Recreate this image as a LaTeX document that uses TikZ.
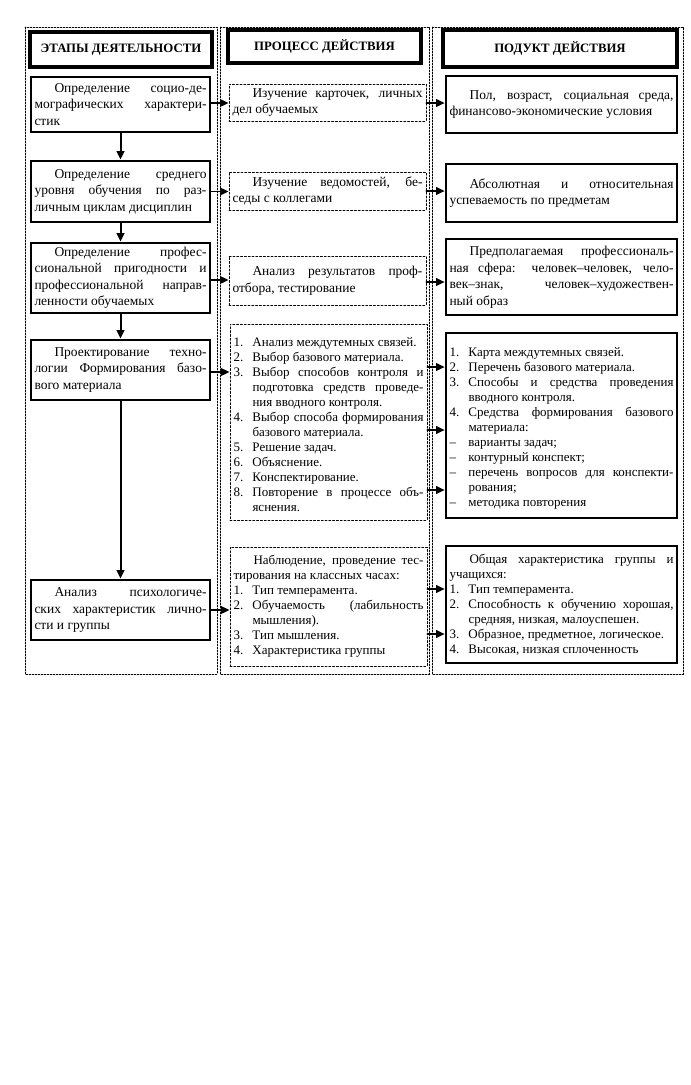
\documentclass[tikz,border=0pt]{standalone}
\usepackage{fontspec}
\setmainfont{Liberation Serif}
\usetikzlibrary{arrows.meta}
\newcommand{\tightpar}{\hyphenpenalty=10000\relax\exhyphenpenalty=10000\relax\tolerance=10000\relax}
\newcommand{\ind}{\noindent\hspace*{20pt}}
\newcommand{\itm}[2]{\par\noindent\hangindent=19pt\hangafter=1\makebox[19pt][l]{#1}#2\par}

\begin{document}
\begin{tikzpicture}[x=1pt,y=-1pt,>={Triangle[length=8.5pt,width=7.5pt]},line cap=round,
  body/.style={font=\fontsize{13.5}{16.5}\selectfont\tightpar,align=justify,inner xsep=3.5pt,inner ysep=2pt},
  lst/.style={body,font=\fontsize{13}{15}\selectfont\tightpar},
  head/.style={draw,line width=3.2pt,font=\fontsize{12.8}{14}\selectfont\bfseries,align=center},
  stage/.style={draw,line width=2.6pt,text width=172pt,minimum width=179pt},
  act/.style={draw,line width=0.8pt,dash pattern=on 2pt off 1.8pt,text width=190pt,minimum width=197pt},
  prod/.style={draw,line width=2.6pt,text width=224pt,minimum width=231pt},
  col/.style={line width=0.8pt,dash pattern=on 1.6pt off 1.4pt},
  flow/.style={->,line width=1.8pt}]
\useasboundingbox (0,0) rectangle (691,1085);
\draw[col] (25,27) rectangle (217,674);
\draw[col] (220,27) rectangle (429,674);
\draw[col] (432,27) rectangle (683,674);

\node[head,minimum width=182pt,minimum height=35pt] (h1) at (121,49.5) {ЭТАПЫ ДЕЯТЕЛЬНОСТИ};
\node[head,minimum width=193pt,minimum height=33pt] (h2) at (324.5,46.5) {ПРОЦЕСС ДЕЙСТВИЯ};
\node[head,minimum width=234pt,minimum height=37pt] (h3) at (560,48.5) {ПОДУКТ ДЕЙСТВИЯ};

\node[body,stage,minimum height=55pt] (a1) at (120.5,104.5) {\ind Определение социо-де-\linebreak мографических характери-\linebreak стик};
\node[body,stage,minimum height=61pt] (a2) at (120.5,191.5) {\ind Определение среднего\linebreak уровня обучения по раз-\linebreak личным циклам дисциплин};
\node[body,stage,minimum height=70pt] (a3) at (120.5,278) {\ind Определение профес-\linebreak сиональной пригодности и\linebreak профессиональной направ-\linebreak ленности обучаемых};
\node[body,stage,minimum height=60pt] (a4) at (120.5,370) {\ind Проектирование техно-\linebreak логии Формирования базо-\linebreak вого материала};
\node[body,stage,minimum height=60pt] (a5) at (120.5,610) {\ind Анализ психологиче-\linebreak ских характеристик лично-\linebreak сти и группы};

\node[body,act,minimum height=37pt] (b1) at (327.5,102.5) {\ind Изучение карточек, личных\linebreak дел обучаемых};
\node[body,act,minimum height=38pt] (b2) at (327.5,191) {\ind Изучение ведомостей, бе-\linebreak седы с коллегами};
\node[body,act,minimum height=49pt] (b3) at (327.5,280.5) {\ind Анализ результатов проф-\linebreak отбора, тестирование};
\node[lst,act,minimum height=196pt] (b4) at (328.5,422) {\itm{1.}{Анализ междутемных связей.}
\itm{2.}{Выбор базового материала.}
\itm{3.}{Выбор способов контроля и\linebreak подготовка средств проведе-\linebreak ния вводного контроля.}
\itm{4.}{Выбор способа формирования\linebreak базового материала.}
\itm{5.}{Решение задач.}
\itm{6.}{Объяснение.}
\itm{7.}{Конспектирование.}
\itm{8.}{Повторение в процессе объ-\linebreak яснения.}};
\node[lst,act,minimum height=119pt] (b5) at (328.5,606.5) {\ind Наблюдение, проведение тес-\linebreak тирования на классных часах:
\itm{1.}{Тип темперамента.}
\itm{2.}{Обучаемость (лабильность\linebreak мышления).}
\itm{3.}{Тип мышления.}
\itm{4.}{Характеристика группы}};

\node[body,prod,minimum height=57pt] (c1) at (561.5,104.5) {\ind Пол, возраст, социальная среда,\linebreak финансово-экономические условия};
\node[body,prod,minimum height=58pt] (c2) at (561.5,193) {\ind Абсолютная и относительная\linebreak успеваемость по предметам};
\node[body,prod,minimum height=76pt] (c3) at (561.5,277) {\ind Предполагаемая профессиональ-\linebreak ная сфера: человек–человек, чело-\linebreak век–знак, человек–художествен-\linebreak ный образ};
\node[lst,prod,minimum height=185pt] (c4) at (561.5,425.5) {\itm{1.}{Карта междутемных связей.}
\itm{2.}{Перечень базового материала.}
\itm{3.}{Способы и средства проведения\linebreak вводного контроля.}
\itm{4.}{Средства формирования базового\linebreak материала:}
\itm{–}{варианты задач;}
\itm{–}{контурный конспект;}
\itm{–}{перечень вопросов для конспекти-\linebreak рования;}
\itm{–}{методика повторения}};
\node[lst,prod,minimum height=117pt] (c5) at (561.5,604.5) {\ind Общая характеристика группы и\linebreak учащихся:
\itm{1.}{Тип темперамента.}
\itm{2.}{Способность к обучению хорошая,\linebreak средняя, низкая, малоуспешен.}
\itm{3.}{Образное, предметное, логическое.}
\itm{4.}{Высокая, низкая сплоченность}};

\draw[flow,line width=2pt] (a1) -- (a2);
\draw[flow,line width=2pt] (a2) -- (a3);
\draw[flow,line width=2pt] (a3) -- (a4);
\draw[flow,line width=2pt] (a4) -- (a5);
\draw[flow] (a1.east |- 0,103) -- (b1.west |- 0,103);
\draw[flow] (a2.east) -- (a2.east -| b2.west);
\draw[flow] (a3.east |- 0,280) -- (b3.west |- 0,280);
\draw[flow] (a4.east |- 0,372) -- (b4.west |- 0,372);
\draw[flow] (a5.east) -- (a5.east -| b5.west);
\draw[flow] (b1.east |- 0,103) -- (c1.west |- 0,103);
\draw[flow] (b2.east) -- (b2.east -| c2.west);
\draw[flow] (b3.east |- 0,282) -- (c3.west |- 0,282);
\draw[flow] (b4.east |- 0,367) -- (c4.west |- 0,367);
\draw[flow] (b4.east |- 0,430) -- (c4.west |- 0,430);
\draw[flow] (b4.east |- 0,490) -- (c4.west |- 0,490);
\draw[flow] (b5.east |- 0,589) -- (c5.west |- 0,589);
\draw[flow] (b5.east |- 0,634) -- (c5.west |- 0,634);
\end{tikzpicture}
\end{document}
